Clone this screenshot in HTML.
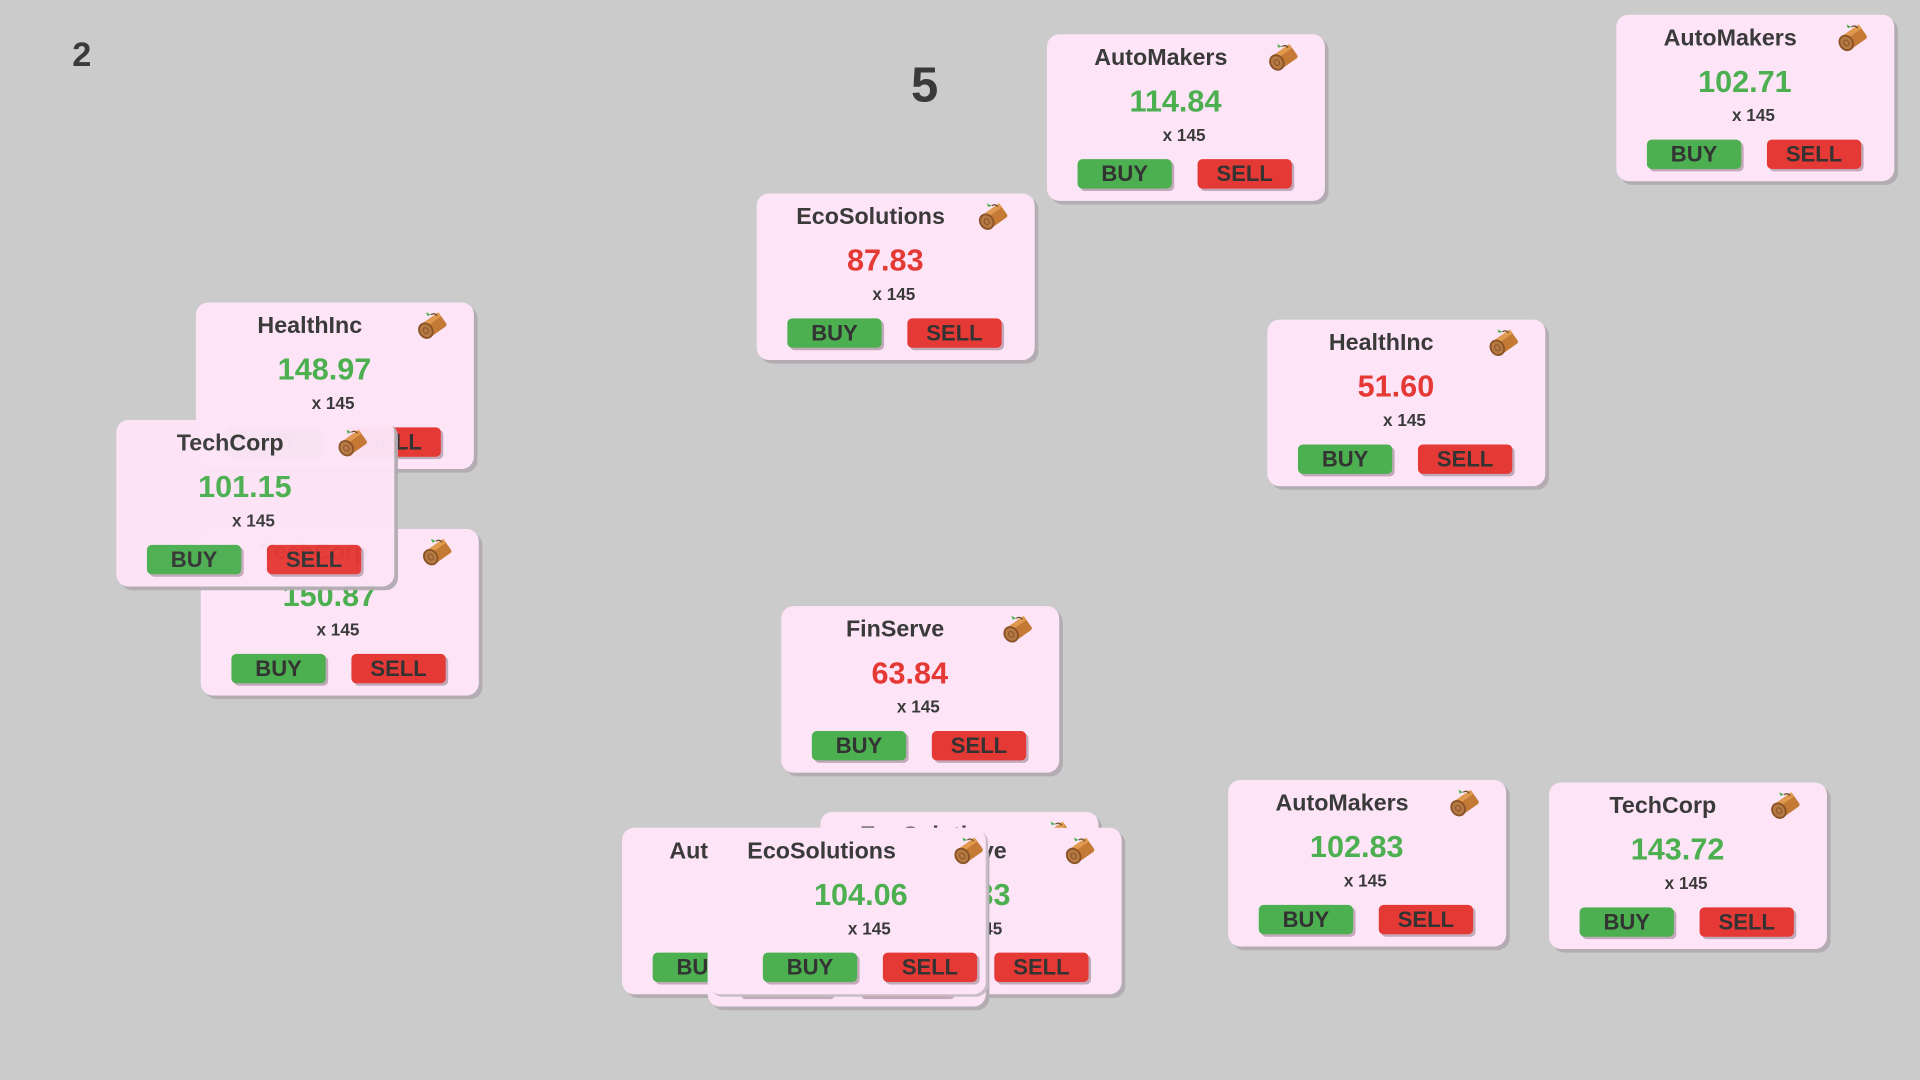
<!DOCTYPE html>
<html><head><meta charset="utf-8"><style>
html,body{margin:0;padding:0;width:1920px;height:1080px;overflow:hidden;background:#cbcbcb;font-family:"Liberation Sans","DejaVu Sans",sans-serif}
#w{position:absolute;left:0;top:0;width:1568px;height:882px;transform:scale(1.22449);transform-origin:0 0}
.c{position:absolute;width:227px;height:136px;background:#fde5f7;border-radius:10px;box-shadow:3px 3px 0 #b3adb3}
.t{position:absolute;left:0;width:186px;top:9px;text-align:center;font-weight:bold;font-size:19px;color:#3a3a3a}
.p{position:absolute;left:0;width:210px;top:41px;text-align:center;font-weight:bold;font-size:25px}
.g{color:#4caf50}.r{color:#e53935}
.x{position:absolute;left:0;width:224px;top:74px;text-align:center;font-weight:bold;font-size:14px;color:#3a3a3a}
.b{position:absolute;top:102px;width:77px;height:24px;border-radius:4px;text-align:center;line-height:25px;font-weight:bold;font-size:18px;color:#333;box-shadow:2px 2px 0 #c2a9b9}
.bu{left:25px;background:#4caf50}.se{left:123px;background:#e53935}
.i{position:absolute;left:178px;top:4px;width:30px;height:30px}
.n{position:absolute;font-weight:bold;color:#3a3a3a}
</style></head><body><div id="w">
<div class="n" style="left:59px;top:29px;font-size:28px">2</div>
<div class="n" style="left:744px;top:48px;font-size:40px">5</div>
<svg width="0" height="0" style="position:absolute"><defs><symbol id="log" viewBox="0 0 30 30">
<g transform="rotate(-35 15 16)"><rect x="8" y="9" width="18" height="13" rx="2" fill="#c47a35"/><rect x="8" y="9" width="18" height="4" fill="#e09a50"/><ellipse cx="9" cy="15.5" rx="6" ry="7" fill="#8a5226"/><ellipse cx="9" cy="15.5" rx="4.5" ry="5.5" fill="#b57a44"/><ellipse cx="9" cy="15.5" rx="2" ry="2.5" fill="none" stroke="#8a5226" stroke-width="0.8"/></g>
<path d="M14 6 l-4 -2 l1 3 z" fill="#4caf50"/><path d="M14 6 q3 -2 5 1" stroke="#6b4a2a" stroke-width="1" fill="none"/></symbol></defs></svg>

<div class="c" style="left:855px;top:28px"><div class="t">AutoMakers</div><svg class="i"><use href="#log"/></svg><div class="p g">114.84</div><div class="x">x 145</div><div class="b bu">BUY</div><div class="b se">SELL</div></div>
<div class="c" style="left:1320px;top:12px"><div class="t">AutoMakers</div><svg class="i"><use href="#log"/></svg><div class="p g">102.71</div><div class="x">x 145</div><div class="b bu">BUY</div><div class="b se">SELL</div></div>
<div class="c" style="left:618px;top:158px"><div class="t">EcoSolutions</div><svg class="i"><use href="#log"/></svg><div class="p r">87.83</div><div class="x">x 145</div><div class="b bu">BUY</div><div class="b se">SELL</div></div>
<div class="c" style="left:160px;top:247px"><div class="t">HealthInc</div><svg class="i"><use href="#log"/></svg><div class="p g">148.97</div><div class="x">x 145</div><div class="b bu">BUY</div><div class="b se">SELL</div></div>
<div class="c" style="left:1035px;top:261px"><div class="t">HealthInc</div><svg class="i"><use href="#log"/></svg><div class="p r">51.60</div><div class="x">x 145</div><div class="b bu">BUY</div><div class="b se">SELL</div></div>
<div class="c" style="left:164px;top:432px"><div class="t">TechCorp</div><svg class="i"><use href="#log"/></svg><div class="p g">150.87</div><div class="x">x 145</div><div class="b bu">BUY</div><div class="b se">SELL</div></div>
<div class="c" style="left:95px;top:343px;opacity:0.97"><div class="t">TechCorp</div><svg class="i"><use href="#log"/></svg><div class="p g">101.15</div><div class="x">x 145</div><div class="b bu">BUY</div><div class="b se">SELL</div></div>
<div class="c" style="left:638px;top:495px"><div class="t">FinServe</div><svg class="i"><use href="#log"/></svg><div class="p r">63.84</div><div class="x">x 145</div><div class="b bu">BUY</div><div class="b se">SELL</div></div>
<div class="c" style="left:1003px;top:637px"><div class="t">AutoMakers</div><svg class="i"><use href="#log"/></svg><div class="p g">102.83</div><div class="x">x 145</div><div class="b bu">BUY</div><div class="b se">SELL</div></div>
<div class="c" style="left:1265px;top:639px"><div class="t">TechCorp</div><svg class="i"><use href="#log"/></svg><div class="p g">143.72</div><div class="x">x 145</div><div class="b bu">BUY</div><div class="b se">SELL</div></div>

<div class="c" style="left:670px;top:663px"><div class="t">EcoSolutions</div><svg class="i"><use href="#log"/></svg><div class="p g">120.13</div><div class="x">x 145</div><div class="b bu">BUY</div><div class="b se">SELL</div></div>
<div class="c" style="left:689px;top:676px"><div class="t">FinServe</div><svg class="i"><use href="#log"/></svg><div class="p g">97.33</div><div class="x">x 145</div><div class="b bu">BUY</div><div class="b se">SELL</div></div>
<div class="c" style="left:508px;top:676px"><div class="t">AutoMakers</div><svg class="i"><use href="#log"/></svg><div class="p g" style="left:20px">110.00</div><div class="x">x 145</div><div class="b bu">BUY</div><div class="b se">SELL</div></div>
<div class="c" style="left:578px;top:686px"><div class="t">FinServe</div><svg class="i"><use href="#log"/></svg><div class="p g">99.00</div><div class="x">x 145</div><div class="b bu" style="top:104px">BUY</div><div class="b se" style="top:104px">SELL</div></div>
<div class="c" style="left:578px;top:676px;box-shadow:2px 2px 0 #c9bcc6"><div class="t">EcoSolutions</div><svg class="i" style="left:198px"><use href="#log"/></svg><div class="p g" style="left:20px">104.06</div><div class="x" style="left:20px">x 145</div><div class="b bu" style="left:45px">BUY</div><div class="b se" style="left:143px">SELL</div></div>
</div></body></html>
